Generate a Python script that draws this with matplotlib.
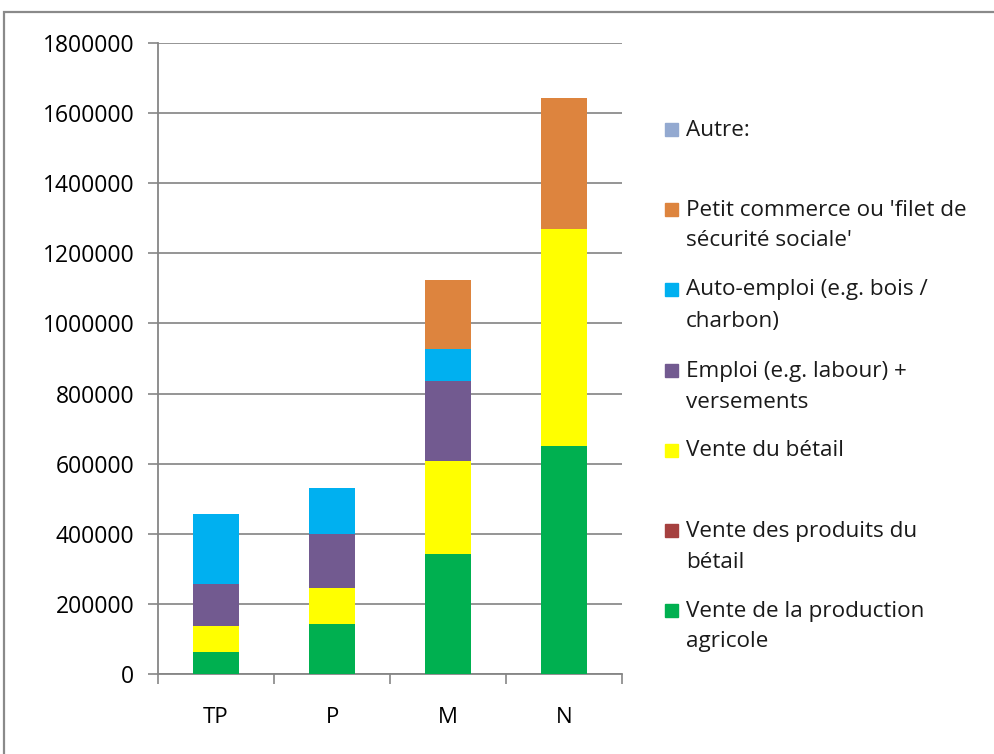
import matplotlib
matplotlib.use("Agg")
import matplotlib.pyplot as plt
from matplotlib.patches import Rectangle
import numpy as np

plt.rcParams['font.family'] = ['Open Sans', 'DejaVu Sans']

categories = ["TP", "P", "M", "N"]

# series, bottom to top
agricole = [63000, 144000, 341000, 649000]
produits_betail = [0, 0, 0, 0]
vente_betail = [73000, 101000, 266000, 619000]
emploi = [120000, 154000, 230000, 0]
auto_emploi = [201000, 132000, 91000, 0]
petit_commerce = [0, 0, 197000, 376000]
autre = [0, 0, 0, 0]

series = [agricole, produits_betail, vente_betail, emploi, auto_emploi,
          petit_commerce, autre]
colors = ["#00B050", "#A5403F", "#FFFF00", "#725A90", "#00B0F0",
          "#DD843E", "#93A9D0"]
labels = ["Vente de la production\nagricole",
          "Vente des produits du\nbétail",
          "Vente du bétail",
          "Emploi (e.g. labour) +\nversements",
          "Auto-emploi (e.g. bois /\ncharbon)",
          "Petit commerce ou 'filet de\nsécurité sociale'",
          "Autre:"]

fig = plt.figure(figsize=(9.95, 7.54), dpi=100)
ax = fig.add_axes([158 / 995, 1 - 674 / 754, 464 / 995, 631 / 754])

x = np.arange(len(categories))
bottom = np.zeros(len(categories))
for vals, c in zip(series, colors):
    ax.bar(x, vals, width=0.4, bottom=bottom, color=c, zorder=3)
    bottom += np.array(vals)

ax.set_xlim(-0.5, len(categories) - 0.5)
ax.set_ylim(0, 1800000)
ax.set_yticks(np.arange(0, 1800001, 200000))
ax.set_yticklabels([f"{v:d}" for v in range(0, 1800001, 200000)])
ax.set_xticks(x)
ax.set_xticklabels(categories)
ax.set_xticks(np.arange(-0.5, len(categories)), minor=True)
ax.tick_params(axis="x", which="major", length=0, pad=24, labelsize=16)
ax.tick_params(axis="x", which="minor", length=7, color="#868686", width=1.2)
ax.tick_params(axis="y", length=7, color="#868686", width=1.2, pad=10,
               labelsize=16.5)
ax.yaxis.grid(True, color="#8c8c8c", linewidth=1.3, zorder=0)
for s in ["top", "right"]:
    ax.spines[s].set_visible(False)
for s in ["left", "bottom"]:
    ax.spines[s].set_color("#868686")
    ax.spines[s].set_linewidth(1.3)

# legend drawn by hand: equal slots, first line aligned like Excel
slot_y = [611, 531, 451, 371, 290, 210, 130]
line_step = 31
for lab, c, yc in zip(labels, colors, slot_y):
    fy = 1 - yc / 754
    fig.patches.append(Rectangle((665 / 995, fy - 6 / 754), 13 / 995, 13 / 754,
                                 transform=fig.transFigure, color=c))
    for i, line in enumerate(lab.split("\n")):
        fig.text(686 / 995, 1 - (yc + i * line_step) / 754, line,
                 fontsize=16.2, va="center", ha="left", color="#1a1a1a")

# outer chart border
fig.patches.append(Rectangle((4 / 995, -0.05), 1.2, 1 - 12 / 754 + 0.05,
                             transform=fig.transFigure, fill=False,
                             edgecolor="#8a8a8a", linewidth=1.6))

fig.savefig("out.png", dpi=100)
